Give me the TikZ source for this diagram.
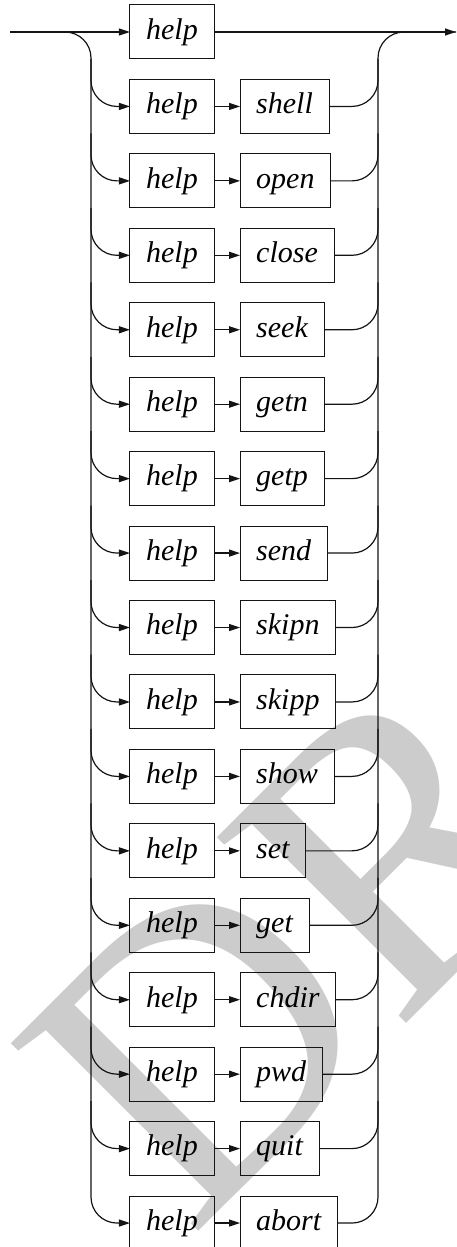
\documentclass[tikz,border=0pt]{standalone}
\usepackage{fontspec}
\setmainfont{Liberation Serif}
\usepackage{tikz}
\usetikzlibrary{
  arrows.meta,
  positioning
}
\definecolor{railblack}{RGB}{20,20,20}
\definecolor{draftgray}{gray}{0.8}
\tikzset{
  helpBox/.style={
    rectangle,
    draw=railblack,
    line width=1pt,
    outer sep=0pt,
    minimum height=54pt,
    inner xsep=16.2pt,
    text height=19.5pt,
    text depth=4.9pt,
    font=\fontsize{30}{33}\selectfont\itshape
  },
  cmdBox/.style={
    helpBox
  },
  railLine/.style={
    line width=1.2pt,
    draw=railblack,
    rounded corners=26pt
  },
  railArrow/.style={
    railLine,
    -{Triangle[length=11pt,width=7pt]}
  },
  draftMark/.style={
    text=draftgray,
    inner sep=0pt,
    font=\fontsize{405}{405}\selectfont
  }
}

\begin{document}
\begin{tikzpicture}[x=1pt, y=1pt, node distance=20.44pt and 26pt]
  \useasboundingbox (0,0) rectangle (457,-1247);

  % watermark behind the diagram
  \node[draftMark, rotate=45, anchor=base west] (draft) at (190,-1240) {DR};

  \coordinate (start) at (10,-32);
  \coordinate (finish) at (456,-32);
  \coordinate (leftRail) at (91,0);
  \coordinate (rightRail) at (378,0);

  \node[helpBox] (help1) at (172,-32) {help};

  \node[helpBox, below=of help1] (help2) {help};
  \node[cmdBox, right=of help2] (shell) {shell};
  \node[helpBox, below=of help2] (help3) {help};
  \node[cmdBox, right=of help3] (open) {open};
  \node[helpBox, below=of help3] (help4) {help};
  \node[cmdBox, right=of help4] (close) {close};
  \node[helpBox, below=of help4] (help5) {help};
  \node[cmdBox, right=of help5] (seek) {seek};
  \node[helpBox, below=of help5] (help6) {help};
  \node[cmdBox, right=of help6] (getn) {getn};
  \node[helpBox, below=of help6] (help7) {help};
  \node[cmdBox, right=of help7] (getp) {getp};
  \node[helpBox, below=of help7] (help8) {help};
  \node[cmdBox, right=of help8] (send) {send};
  \node[helpBox, below=of help8] (help9) {help};
  \node[cmdBox, right=of help9] (skipn) {skipn};
  \node[helpBox, below=of help9] (help10) {help};
  \node[cmdBox, right=of help10] (skipp) {skipp};
  \node[helpBox, below=of help10] (help11) {help};
  \node[cmdBox, right=of help11] (show) {show};
  \node[helpBox, below=of help11] (help12) {help};
  \node[cmdBox, right=of help12] (set) {set};
  \node[helpBox, below=of help12] (help13) {help};
  \node[cmdBox, right=of help13] (get) {get};
  \node[helpBox, below=of help13] (help14) {help};
  \node[cmdBox, right=of help14] (chdir) {chdir};
  \node[helpBox, below=of help14] (help15) {help};
  \node[cmdBox, right=of help15] (pwd) {pwd};
  \node[helpBox, below=of help15] (help16) {help};
  \node[cmdBox, right=of help16] (quit) {quit};
  \node[helpBox, below=of help16] (help17) {help};
  \node[cmdBox, right=of help17] (abort) {abort};

  % main line
  \draw[railArrow] (start) -- (help1);
  \draw[railArrow] (help1) -- (finish);

  % left rail and branches
  \draw[railArrow] (start) -| (leftRail |- help17) -- (help17);
  \draw[railArrow] (leftRail |- help1.south) |- (help2);
  \draw[railArrow] (leftRail |- help2.south) |- (help3);
  \draw[railArrow] (leftRail |- help3.south) |- (help4);
  \draw[railArrow] (leftRail |- help4.south) |- (help5);
  \draw[railArrow] (leftRail |- help5.south) |- (help6);
  \draw[railArrow] (leftRail |- help6.south) |- (help7);
  \draw[railArrow] (leftRail |- help7.south) |- (help8);
  \draw[railArrow] (leftRail |- help8.south) |- (help9);
  \draw[railArrow] (leftRail |- help9.south) |- (help10);
  \draw[railArrow] (leftRail |- help10.south) |- (help11);
  \draw[railArrow] (leftRail |- help11.south) |- (help12);
  \draw[railArrow] (leftRail |- help12.south) |- (help13);
  \draw[railArrow] (leftRail |- help13.south) |- (help14);
  \draw[railArrow] (leftRail |- help14.south) |- (help15);
  \draw[railArrow] (leftRail |- help15.south) |- (help16);

  % help to command
  \draw[railArrow] (help2) -- (shell);
  \draw[railArrow] (help3) -- (open);
  \draw[railArrow] (help4) -- (close);
  \draw[railArrow] (help5) -- (seek);
  \draw[railArrow] (help6) -- (getn);
  \draw[railArrow] (help7) -- (getp);
  \draw[railArrow] (help8) -- (send);
  \draw[railArrow] (help9) -- (skipn);
  \draw[railArrow] (help10) -- (skipp);
  \draw[railArrow] (help11) -- (show);
  \draw[railArrow] (help12) -- (set);
  \draw[railArrow] (help13) -- (get);
  \draw[railArrow] (help14) -- (chdir);
  \draw[railArrow] (help15) -- (pwd);
  \draw[railArrow] (help16) -- (quit);
  \draw[railArrow] (help17) -- (abort);

  % right rail and joins
  \draw[railLine] (abort) -| (rightRail |- help1) -- (finish);
  \draw[railLine] (shell) -| (rightRail |- help1.south);
  \draw[railLine] (open) -| (rightRail |- help2.south);
  \draw[railLine] (close) -| (rightRail |- help3.south);
  \draw[railLine] (seek) -| (rightRail |- help4.south);
  \draw[railLine] (getn) -| (rightRail |- help5.south);
  \draw[railLine] (getp) -| (rightRail |- help6.south);
  \draw[railLine] (send) -| (rightRail |- help7.south);
  \draw[railLine] (skipn) -| (rightRail |- help8.south);
  \draw[railLine] (skipp) -| (rightRail |- help9.south);
  \draw[railLine] (show) -| (rightRail |- help10.south);
  \draw[railLine] (set) -| (rightRail |- help11.south);
  \draw[railLine] (get) -| (rightRail |- help12.south);
  \draw[railLine] (chdir) -| (rightRail |- help13.south);
  \draw[railLine] (pwd) -| (rightRail |- help14.south);
  \draw[railLine] (quit) -| (rightRail |- help15.south);
\end{tikzpicture}
\end{document}
